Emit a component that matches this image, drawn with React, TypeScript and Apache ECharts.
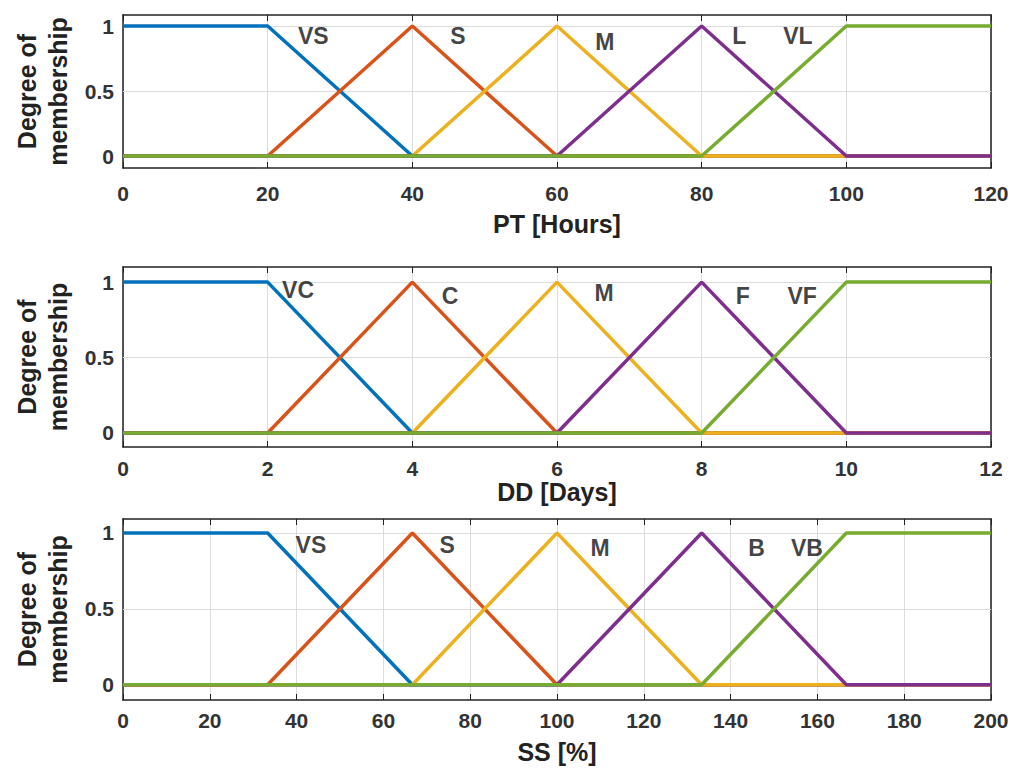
import React, { useEffect, useRef } from "react";
import * as echarts from "echarts";

// Breakpoints on each universe of discourse
const ptX = [0, 20, 40, 60, 80, 100, 120];
const ddX = [0, 2, 4, 6, 8, 10, 12];
const ssX = [0, 33.33, 66.67, 100, 133.33, 166.67, 200];

// Membership values at the breakpoints (same shape for the three variables)
const mf1 = [1, 1, 0, 0, 0, 0, 0];
const mf2 = [0, 0, 1, 0, 0, 0, 0];
const mf3 = [0, 0, 0, 1, 0, 0, 0];
const mf4 = [0, 0, 0, 0, 1, 0, 0];
const mf5 = [0, 0, 0, 0, 0, 1, 1];

// Term names
const ptTerms = ["VS", "S", "M", "L", "VL"];
const ddTerms = ["VC", "C", "M", "F", "VF"];
const ssTerms = ["VS", "S", "M", "B", "VB"];

// Term label anchor points (data coordinates)
const ptLabelX = [26.3, 46.3, 66.6, 85.2, 93.3];
const ptLabelY = [0.92, 0.92, 0.88, 0.92, 0.92];
const ddLabelX = [2.42, 4.52, 6.65, 8.57, 9.39];
const ddLabelY = [0.95, 0.91, 0.93, 0.91, 0.91];
const ssLabelX = [43.3, 74.7, 109.9, 146, 157.6];
const ssLabelY = [0.92, 0.92, 0.9, 0.9, 0.9];

// Axis settings
const ptMax = 120, ptStep = 20;
const ddMax = 12, ddStep = 2;
const ssMax = 200, ssStep = 20;
const yTicks = [0, 0.5, 1];
const xTitles = ["PT [Hours]", "DD [Days]", "SS [%]"];
const yTitle = "Degree of\nmembership";

const colors = ["#0072BD", "#D95319", "#EDB120", "#7E2F8E", "#77AC30"];
const FONT = "Liberation Sans, Arial, Helvetica, sans-serif";

export default function App() {
  const ref = useRef<HTMLDivElement>(null);
  useEffect(() => {
    if (!ref.current) return;
    const chart = echarts.init(ref.current, undefined, { renderer: "svg" });

    const panels = [
      { x: ptX, max: ptMax, step: ptStep, terms: ptTerms, lx: ptLabelX, ly: ptLabelY, top: 15, height: 153, yMin: -0.092, yMax: 1.085, lm: 15, ng: 43 },
      { x: ddX, max: ddMax, step: ddStep, terms: ddTerms, lx: ddLabelX, ly: ddLabelY, top: 267, height: 180, yMin: -0.093, yMax: 1.1, lm: 11, ng: 30 },
      { x: ssX, max: ssMax, step: ssStep, terms: ssTerms, lx: ssLabelX, ly: ssLabelY, top: 519, height: 181, yMin: -0.1, yMax: 1.092, lm: 10, ng: 39 },
    ];
    const mfs = [mf1, mf2, mf3, mf4, mf5];

    const grid: any[] = [];
    const xAxis: any[] = [];
    const yAxis: any[] = [];
    const series: any[] = [];

    panels.forEach((p, i) => {
      grid.push({ left: 123, right: 26, top: p.top, height: p.height, containLabel: false });
      const xBottom = xAxis.length;
      xAxis.push({
        type: "value", gridIndex: i, min: 0, max: p.max, interval: p.step, position: "bottom",
        name: xTitles[i], nameLocation: "middle", nameGap: p.ng,
        nameTextStyle: { fontFamily: FONT, fontWeight: "bold", fontSize: 25, color: "#222" },
        axisLine: { show: true, onZero: false, lineStyle: { color: "#222", width: 1.5 } },
        axisTick: { show: true, inside: true, length: 6, lineStyle: { color: "#222" } },
        axisLabel: { fontFamily: FONT, fontWeight: "bold", fontSize: 21, color: "#333", margin: p.lm },
        splitLine: { show: true, lineStyle: { color: "#dcdcdc", width: 1 } },
      });
      xAxis.push({
        type: "value", gridIndex: i, min: 0, max: p.max, interval: p.step, position: "top",
        axisLine: { show: true, onZero: false, lineStyle: { color: "#222", width: 1.5 } },
        axisTick: { show: true, inside: true, length: 6, lineStyle: { color: "#222" } },
        axisLabel: { show: false },
        splitLine: { show: false },
      });
      const yLeft = yAxis.length;
      yAxis.push({
        type: "value", gridIndex: i, min: p.yMin, max: p.yMax, position: "left",
        name: yTitle, nameLocation: "middle", nameRotate: 90, nameGap: 50,
        nameTextStyle: { fontFamily: FONT, fontWeight: "bold", fontSize: 25, lineHeight: 31, color: "#222" },
        axisLine: { show: true, onZero: false, lineStyle: { color: "#222", width: 1.5 } },
        axisTick: { show: true, inside: true, length: 6, customValues: yTicks, lineStyle: { color: "#222" } },
        axisLabel: { fontFamily: FONT, fontWeight: "bold", fontSize: 21, color: "#333", margin: 9, customValues: yTicks },
        splitLine: { show: false },
      });
      yAxis.push({
        type: "value", gridIndex: i, min: p.yMin, max: p.yMax, position: "right",
        axisLine: { show: true, onZero: false, lineStyle: { color: "#222", width: 1.5 } },
        axisTick: { show: true, inside: true, length: 6, customValues: yTicks, lineStyle: { color: "#222" } },
        axisLabel: { show: false, customValues: yTicks },
        splitLine: { show: false },
      });

      mfs.forEach((mf, k) => {
        const s: any = {
          type: "line", xAxisIndex: xBottom, yAxisIndex: yLeft,
          data: p.x.map((xv, j) => [xv, mf[j]]),
          symbol: "none", lineStyle: { color: colors[k], width: 3.5 }, itemStyle: { color: colors[k] },
          z: 3 + k,
        };
        if (k === 0) {
          s.markLine = {
            silent: true, symbol: "none", label: { show: false }, z: 1,
            lineStyle: { color: "#dcdcdc", width: 1, type: "solid" },
            data: yTicks.map((v) => ({ yAxis: v })),
          };
        }
        series.push(s);
      });

      series.push({
        type: "scatter", xAxisIndex: xBottom, yAxisIndex: yLeft,
        symbolSize: 1, itemStyle: { color: "rgba(0,0,0,0)" }, z: 10,
        data: p.terms.map((t, j) => ({ name: t, value: [p.lx[j], p.ly[j]] })),
        label: {
          show: true, position: "inside", formatter: "{b}",
          fontFamily: FONT, fontWeight: "bold", fontSize: 23, color: "#111",
        },
      });
    });

    chart.setOption({
      animation: false,
      backgroundColor: "#ffffff",
      grid, xAxis, yAxis, series,
    });
    return () => chart.dispose();
  }, []);

  return (
    <div
      ref={ref}
      style={{ position: "fixed", left: 0, top: 0, width: 1017, height: 769 }}
    />
  );
}
